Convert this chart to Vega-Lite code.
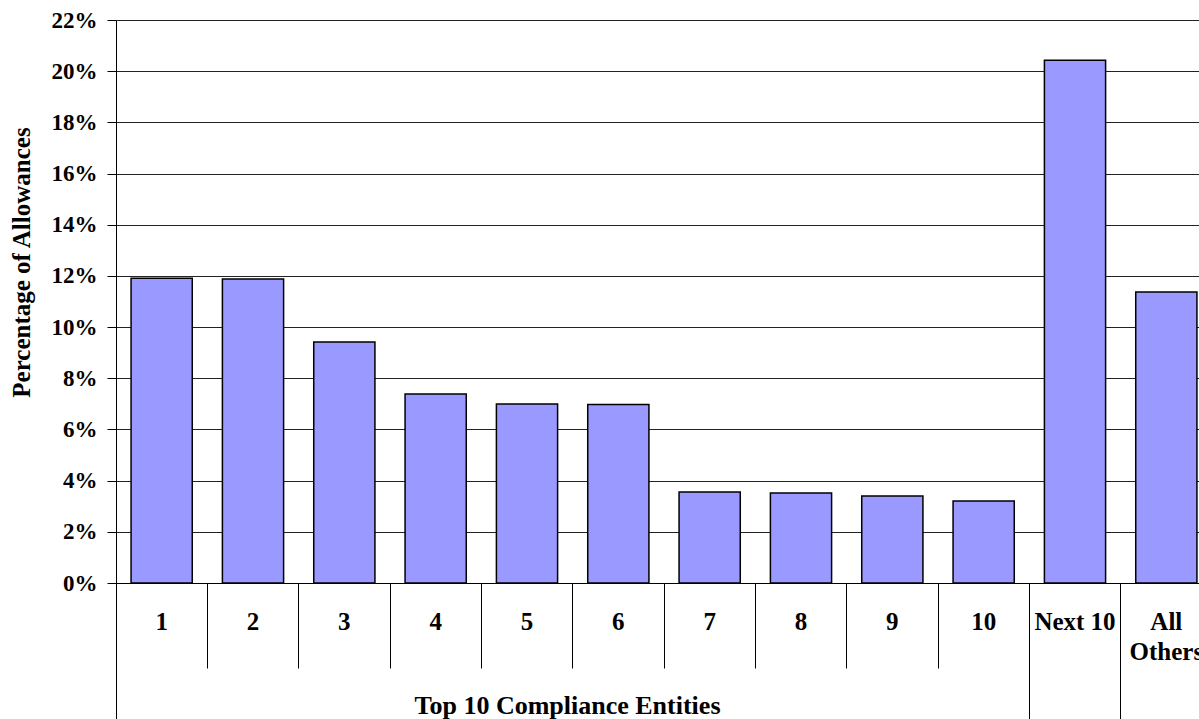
{
  "$schema": "https://vega.github.io/schema/vega-lite/v6.json",
  "autosize": {"type": "none"},
  "width": 1096,
  "height": 563,
  "padding": {"left": 116, "top": 20, "right": -13, "bottom": 136},
  "background": "white",
  "config": {
    "view": {"stroke": null},
    "font": "Liberation Serif",
    "axis": {"labelFont": "Liberation Serif", "titleFont": "Liberation Serif", "labelFontWeight": "bold", "titleFontWeight": "bold", "labelColor": "black", "titleColor": "black"}
  },
  "data": {
    "values": [
      {"entity": "1", "share": 0.1191},
      {"entity": "2", "share": 0.1188},
      {"entity": "3", "share": 0.0942},
      {"entity": "4", "share": 0.0739},
      {"entity": "5", "share": 0.0699},
      {"entity": "6", "share": 0.0698},
      {"entity": "7", "share": 0.0356},
      {"entity": "8", "share": 0.0352},
      {"entity": "9", "share": 0.034},
      {"entity": "10", "share": 0.032},
      {"entity": "Next 10", "share": 0.2043},
      {"entity": "All Others", "share": 0.1137}
    ]
  },
  "layer": [
    {
      "mark": {"type": "bar", "fill": "#9999FF", "stroke": "black", "strokeWidth": 1.5, "width": {"band": 0.67}},
      "encoding": {
        "x": {
          "field": "entity", "type": "nominal", "sort": null,
          "scale": {"paddingInner": 0, "paddingOuter": 0},
          "axis": {
            "orient": "bottom",
            "title": null, "ticks": false, "domain": true, "domainColor": "black", "domainWidth": 1,
            "labelAngle": 0, "labelFontSize": 25, "labelPadding": 26, "labelBaseline": "top",
            "labelLineHeight": 30,
            "labelExpr": "datum.value == 'All Others' ? ['All', 'Others'] : datum.value"
          }
        },
        "y": {
          "field": "share", "type": "quantitative",
          "scale": {"domain": [0, 0.22], "nice": false},
          "axis": {
            "title": "Percentage of Allowances", "titleFontSize": 25,
            "titleX": -95, "titleY": 242, "titleAlign": "center", "titleBaseline": "middle",
            "format": "0%", "values": [0, 0.02, 0.04, 0.06, 0.08, 0.1, 0.12, 0.14, 0.16, 0.18, 0.2, 0.22],
            "labelFontSize": 23, "labelPadding": 10, "tickSize": 9, "tickColor": "black",
            "domainColor": "black", "grid": true, "gridColor": "#222222", "gridWidth": 1
          }
        }
      }
    },
    {
      "mark": {"type": "bar", "opacity": 0, "width": {"band": 0.67}},
      "encoding": {
        "x": {
          "field": "entity", "type": "nominal", "sort": null,
          "axis": {
            "orient": "bottom",
            "title": null, "labels": false, "domain": false, "bandPosition": 0,
            "values": ["2", "3", "4", "5", "6", "7", "8", "9", "10"],
            "tickSize": 85, "tickColor": "black", "tickWidth": 1
          }
        },
        "y": {"field": "share", "type": "quantitative"}
      }
    },
    {
      "mark": {"type": "bar", "opacity": 0, "width": {"band": 0.67}},
      "encoding": {
        "x": {
          "field": "entity", "type": "nominal", "sort": null,
          "axis": {
            "orient": "bottom",
            "title": "Top 10 Compliance Entities", "titleFontSize": 26,
            "titleX": 451, "titleY": 122, "titleAlign": "center", "titleBaseline": "middle",
            "labels": false, "domain": false, "bandPosition": 0,
            "values": ["1", "Next 10", "All Others"],
            "tickSize": 136, "tickColor": "black", "tickWidth": 1
          }
        },
        "y": {"field": "share", "type": "quantitative"}
      }
    }
  ],
  "resolve": {"axis": {"x": "independent"}}
}
